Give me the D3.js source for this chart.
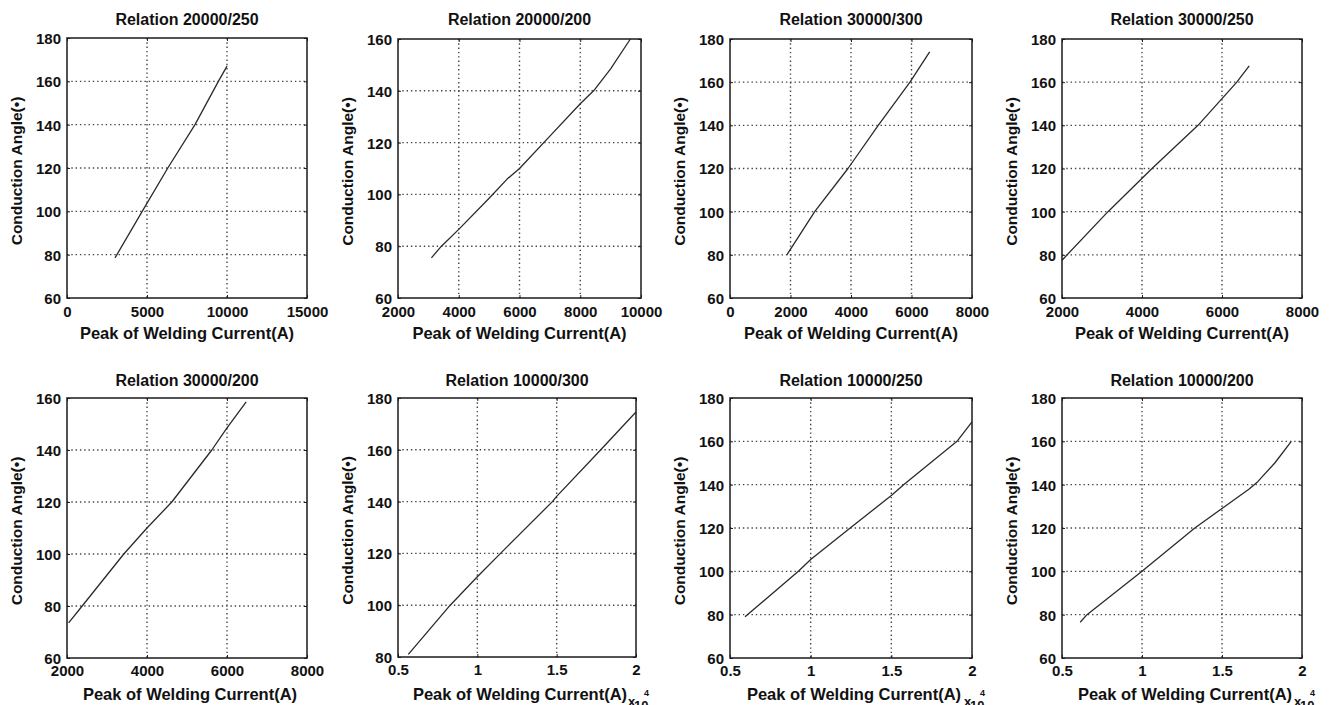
<!DOCTYPE html>
<html><head><meta charset="utf-8">
<script src="https://cdn.jsdelivr.net/npm/d3@7"></script>
<style>
html,body{margin:0;padding:0;background:#fff;}
svg{display:block;}
text{font-family:"Liberation Sans",Arial,Helvetica,sans-serif;font-weight:bold;fill:#111;}
</style></head>
<body>
<svg id="c" width="1332" height="705"></svg>
<script>
// ---- data ----
const titles = ["Relation 20000/250","Relation 20000/200","Relation 30000/300","Relation 30000/250",
                "Relation 30000/200","Relation 10000/300","Relation 10000/250","Relation 10000/200"];
const xDomains = [[0,15000],[2000,10000],[0,8000],[2000,8000],[2000,8000],[5000,20000],[5000,20000],[5000,20000]];
const yDomains = [[60,180],[60,160],[60,180],[60,180],[60,160],[80,180],[60,180],[60,180]];
const xTickValues = [[0,5000,10000,15000],[2000,4000,6000,8000,10000],[0,2000,4000,6000,8000],[2000,4000,6000,8000],
                     [2000,4000,6000,8000],[5000,10000,15000,20000],[5000,10000,15000,20000],[5000,10000,15000,20000]];
const xTickLabels = [["0","5000","10000","15000"],["2000","4000","6000","8000","10000"],["0","2000","4000","6000","8000"],
                     ["2000","4000","6000","8000"],["2000","4000","6000","8000"],["0.5","1","1.5","2"],["0.5","1","1.5","2"],["0.5","1","1.5","2"]];
const yTickValues = [[60,80,100,120,140,160,180],[60,80,100,120,140,160],[60,80,100,120,140,160,180],[60,80,100,120,140,160,180],
                     [60,80,100,120,140,160],[80,100,120,140,160,180],[60,80,100,120,140,160,180],[60,80,100,120,140,160,180]];
const xExponent = [null,null,null,null,null,"4","4","4"];
const seriesX = [
  [3000,4700,6300,8000,9460,10000],
  [3100,3430,4000,5000,5600,6000,7000,8000,8440,9000,9650],
  [1880,2800,3900,4900,5950,6600],
  [2000,3150,4250,5400,6370,6680],
  [2040,2380,3420,4000,4620,5620,6000,6480],
  [5650,8290,10000,11460,14730,15000,17780,20000],
  [5930,9240,10000,12450,15000,15760,19070,20000],
  [6140,6560,10000,13300,15000,16700,17250,18300,19330]
];
const seriesY = [
  [78.5,100,120,140,160,167],
  [75.5,80,86.5,98.5,106,110,122.5,135,140,148.5,160],
  [80,100,120,140,160,174],
  [77.5,100,120,140,160,167.5],
  [73.5,80,100,110,120,140,148.5,158.5],
  [81,100,111,120,140,142,160,174.6],
  [79,100,105.5,120,135,140,160,169],
  [76.5,80,100,120,129,138,141.5,150,160]
];
const yLabel = "Conduction Angle(\u2022)";
const xLabel = "Peak of Welding Current(A)";

// ---- layout ----
const boxes = [
  {l:67,r:307,t:38,b:298},{l:398,r:641,t:39,b:298},{l:730,r:972,t:39,b:298},{l:1062,r:1302,t:39,b:298},
  {l:67,r:307,t:398,b:658},{l:398,r:636,t:398,b:657},{l:730,r:972,t:398,b:658},{l:1062,r:1302,t:398,b:658}
];
const svg = d3.select("#c");

boxes.forEach((bx,i)=>{
  const top = i<4;
  const x = d3.scaleLinear().domain(xDomains[i]).range([bx.l,bx.r]);
  const y = d3.scaleLinear().domain(yDomains[i]).range([bx.b,bx.t]);
  const g = svg.append("g");
  // grid
  g.selectAll(".gx").data(xTickValues[i].filter(v=>v>xDomains[i][0]&&v<xDomains[i][1])).enter()
    .append("line").attr("x1",d=>x(d)).attr("x2",d=>x(d)).attr("y1",bx.t).attr("y2",bx.b)
    .attr("stroke","#444").attr("stroke-width",1.4).attr("stroke-dasharray","1.4,2.9");
  g.selectAll(".gy").data(yTickValues[i].filter(v=>v>yDomains[i][0]&&v<yDomains[i][1])).enter()
    .append("line").attr("y1",d=>y(d)).attr("y2",d=>y(d)).attr("x1",bx.l).attr("x2",bx.r)
    .attr("stroke","#444").attr("stroke-width",1.4).attr("stroke-dasharray","1.4,2.9");
  // axes (inward ticks)
  const ax = d3.axisBottom(x).tickValues(xTickValues[i]).tickSize(-3).tickFormat((d,k)=>xTickLabels[i][k]).tickPadding(6);
  const ay = d3.axisLeft(y).tickValues(yTickValues[i]).tickSize(-3).tickPadding(6);
  const gx = g.append("g").attr("transform",`translate(0,${bx.b})`).call(ax);
  const gy = g.append("g").attr("transform",`translate(${bx.l},0)`).call(ay);
  g.append("g").attr("transform",`translate(0,${bx.t})`).call(d3.axisTop(x).tickValues(xTickValues[i]).tickSize(-3).tickFormat(""));
  g.append("g").attr("transform",`translate(${bx.r},0)`).call(d3.axisRight(y).tickValues(yTickValues[i]).tickSize(-3).tickFormat(""));
  g.selectAll(".domain").remove();
  g.selectAll(".tick line").attr("stroke","#222");
  gx.selectAll("text").attr("font-size",15).attr("fill","#111").attr("dy",null).attr("y",null)
    .attr("transform",`translate(0,${top?19:18})`).style("font-family","Liberation Sans, Arial, sans-serif").style("font-weight","bold");
  gy.selectAll("text").attr("font-size",15).attr("fill","#111").attr("x",-6).attr("dy","0.36em")
    .style("font-family","Liberation Sans, Arial, sans-serif").style("font-weight","bold");
  // curve
  g.append("path").datum(seriesX[i].map((v,k)=>[v,seriesY[i][k]]))
    .attr("fill","none").attr("stroke","#2a2a2a").attr("stroke-width",1.3).attr("stroke-linejoin","round")
    .attr("d",d3.line().x(d=>x(d[0])).y(d=>y(d[1])).curve(d3.curveLinear));
  // frame
  g.append("rect").attr("x",bx.l).attr("y",bx.t).attr("width",bx.r-bx.l).attr("height",bx.b-bx.t)
    .attr("fill","none").attr("stroke","#1a1a1a").attr("stroke-width",1.5);
  // title
  g.append("text").attr("x",(bx.l+bx.r)/2).attr("y",top?25:386).attr("text-anchor","middle")
    .attr("font-size",16).text(titles[i]);
  // x label
  g.append("text").attr("x",(bx.l+bx.r)/2 + (top?0:3)).attr("y",top?339:700).attr("text-anchor","middle")
    .attr("font-size",16.5).text(xLabel);
  // y label
  const cy = (bx.t+bx.b)/2+3;
  g.append("text").attr("transform",`translate(${bx.l-50},${cy}) rotate(-90)`).attr("text-anchor","middle")
    .attr("dy","0.35em").attr("font-size",15.5).text(yLabel);
  // exponent
  if (xExponent[i]) {
    g.append("text").attr("x",bx.r-8).attr("y",706).attr("font-size",13).text("x");
    g.append("text").attr("x",bx.r-2).attr("y",710).attr("font-size",13).text("10");
    g.append("text").attr("x",bx.r+8).attr("y",696).attr("font-size",9).attr("font-weight","normal").text(xExponent[i]);
  }
});
</script>
</body></html>
